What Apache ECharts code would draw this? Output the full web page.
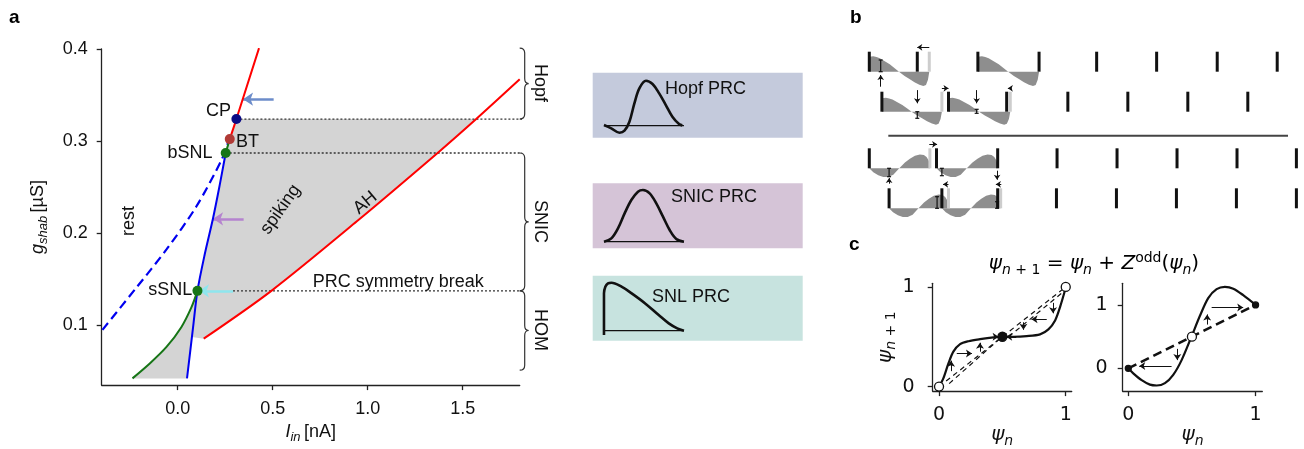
<!DOCTYPE html>
<html>
<head>
<meta charset="utf-8">
<script src="https://cdn.jsdelivr.net/npm/echarts@6/dist/echarts.min.js"></script>
<style>
  html, body { margin: 0; padding: 0; background: #fff; }
  #chart { width: 1304px; height: 449px; }
</style>
</head>
<body>
<div id="chart"></div>
<script>
// ---- panel a: two-parameter bifurcation diagram (I_in [nA] vs g_shab [uS])
const blueDashed = [[-0.396, 0.0946], [-0.217, 0.1406], [-0.059, 0.182], [0.098, 0.2287], [0.23, 0.279], [0.268, 0.300]]
const blueSolid = [[0.049, 0.0418], [0.081, 0.0975], [0.104, 0.137], [0.142, 0.1765], [0.186, 0.216], [0.221, 0.252], [0.247, 0.2807], [0.2526, 0.2869]]
const greenLower = [[-0.238, 0.0418], [-0.147, 0.058], [-0.059, 0.076], [0.019, 0.0975], [0.072, 0.119], [0.104, 0.137]]
const greenUpper = [[0.2526, 0.2869], [0.274, 0.302]]
const redSteep = [[0.274, 0.302], [0.309, 0.3238], [0.428, 0.401]]
const ahLine = [[0.137, 0.085], [0.493, 0.137], [0.943, 0.2126], [1.374, 0.288], [1.571, 0.3238], [1.80, 0.367]]
const spikingFloor = [0.075, 0.0867]

const pointNames = ['sSNL', 'bSNL', 'BT', 'CP']
const pointXY = [[0.104, 0.137], [0.2526, 0.2869], [0.274, 0.302], [0.309, 0.3238]]

const levelY = [0.3238, 0.2869, 0.137]
const levelFrom = [0.309, 0.2526, 0.291]
const levelTo = 1.825

const regimes = ['Hopf', 'SNIC', 'HOM']
const regimeTop = [0.401, 0.2869, 0.137]
const regimeBottom = [0.3238, 0.137, 0.0507]

const arrowsA = [[[0.505, 0.3454], [0.344, 0.3454]], [[0.347, 0.2153], [0.186, 0.2153]], [[0.291, 0.137], [0.112, 0.137]]]

const annoText = ['CP', 'BT', 'bSNL', 'sSNL', 'rest', 'spiking', 'AH', 'PRC symmetry break']
const annoXY = [[0.218, 0.3317], [0.37, 0.2983], [0.067, 0.2861], [-0.037, 0.137], [-0.253, 0.2125], [0.544, 0.225], [0.99, 0.232], [1.163, 0.146]]
const annoRot = [0, 0, 0, 0, 90, 55, 40, 0]

const xTicksA = [0, 0.5, 1.0, 1.5]
const yTicksA = [0.1, 0.2, 0.3, 0.4]

// ---- PRC insets (phase 0..1, normalised PRC)
const hopfPhase = [0, 0.091, 0.194, 0.256, 0.318, 0.380, 0.442, 0.525, 0.607, 0.690, 0.773, 0.855, 0.938, 0.979]
const hopfPrc = [0.015, -0.059, -0.156, -0.111, 0.089, 0.496, 0.830, 1.0, 0.926, 0.719, 0.459, 0.2, 0.037, 0.007]
const snicPhase = [0, 0.092, 0.175, 0.258, 0.342, 0.425, 0.4875, 0.571, 0.654, 0.7375, 0.821, 0.904, 1.0]
const snicPrc = [0, 0.065, 0.258, 0.548, 0.806, 0.968, 1.0, 0.935, 0.742, 0.484, 0.226, 0.052, 0]
const snlPhase = [0, 0, 0.017, 0.05, 0.093, 0.219, 0.346, 0.515, 0.684, 0.81, 0.916, 1.0]
const snlPrc = [-0.09, 0.778, 0.917, 0.986, 1.0, 0.917, 0.778, 0.569, 0.326, 0.153, 0.049, 0]
const insetNames = ['Hopf PRC', 'SNIC PRC', 'SNL PRC']

// ---- panel b: spike trains (time in periods), one list per trace
const rowBase = [0, -2, -4.83, -6.83]
const spikeTimes = [
  [0, 0.8, 1.81, 2.83, 3.79, 4.79, 5.8, 6.8],
  [0.21, 1.32, 2.29, 3.31, 4.31, 5.31, 6.31],
  [0, 1.12, 2.14, 3.13, 4.13, 5.13, 6.13, 7.12],
  [0.33, 1.21, 2.14, 3.12, 4.12, 5.12, 6.12, 7.12]
]
const ghostTimes = [[1.0], [1.21, 2.35], [1.01], [1.32, 2.19]]
const waveSpans = [
  [[0, 1.0], [1.81, 2.83]],
  [[0.21, 1.21], [1.32, 2.35]],
  [[0, 1.01], [1.12, 2.14]],
  [[0.33, 1.32], [1.21, 2.19]]
]
const waveAmp = [0.72, 0.65, 0.72, 0.72]
const waveShape = [0, 0, 1, 1]
const waveAPhase = [0, 0, 0.066, 0.121, 0.176, 0.258, 0.341, 0.423, 0.495, 0.588, 0.67, 0.753, 0.835, 0.901, 0.945, 0.978, 1]
const waveAValue = [0, 1.04, 1.07, 1.02, 0.93, 0.73, 0.51, 0.24, 0, -0.29, -0.51, -0.73, -0.91, -1.0, -0.93, -0.56, 0]
const waveBPhase = [0, 0.066, 0.148, 0.231, 0.313, 0.396, 0.495, 0.588, 0.67, 0.753, 0.835, 0.901, 0.945, 0.978, 1, 1]
const waveBValue = [0, -0.27, -0.49, -0.6, -0.6, -0.44, 0, 0.4, 0.67, 0.87, 0.96, 0.93, 0.78, 0.56, 0.3, 0]
const separator = [[0.317, -3.2], [6.98, -3.2]]
const arrowsB = [
  [[1.0, 1.22], [0.8, 1.22]], [[0.19, -0.75], [0.19, -0.17]],
  [[0.8, -0.92], [0.8, -1.58]], [[1.79, -0.92], [1.79, -1.58]],
  [[1.21, -0.83], [1.32, -0.83]], [[2.37, -0.83], [2.31, -0.83]],
  [[1.0, -3.63], [1.13, -3.63]], [[2.13, -4.95], [2.13, -5.4]], [[0.33, -5.6], [0.33, -5.32]],
  [[1.32, -5.63], [1.23, -5.63]], [[2.2, -5.63], [2.11, -5.63]]
]
const kicksB = [[0.19, 0, 0.585], [0.8, -2, -2.33], [1.79, -1.88, -2.08], [0.33, -4.83, -5.25], [1.21, -4.83, -5.2], [1.13, -6.25, -6.83], [2.13, -6.5, -6.83]]

// ---- panel c: phase return maps
const mapLeftX = [0, 0.034, 0.074, 0.113, 0.166, 0.232, 0.324, 0.429, 0.503, 0.587, 0.692, 0.797, 0.863, 0.916, 0.955, 1.0]
const mapLeftY = [0, 0.083, 0.232, 0.351, 0.426, 0.455, 0.476, 0.494, 0.5, 0.5, 0.506, 0.524, 0.574, 0.664, 0.798, 0.991]
const mapRightX = [0, 0.039, 0.105, 0.17, 0.223, 0.288, 0.353, 0.419, 0.497, 0.563, 0.628, 0.694, 0.759, 0.825, 0.903, 1.0]
const mapRightY = [0, -0.079, -0.186, -0.256, -0.27, -0.233, -0.102, 0.13, 0.502, 0.828, 1.107, 1.247, 1.284, 1.256, 1.153, 1.0]
const diagonal = [[0, 0], [1, 1]]
const cobwebLeft = [[[0.08, 0.03], [0.47, 0.47]], [[0.55, 0.5], [0.99, 0.96]]]
const arrowsCL = [
  [[0.85, 0.675], [0.73, 0.675]], [[0.9, 0.84], [0.9, 0.735]], [[0.666, 0.645], [0.666, 0.57]],
  [[0.61, 0.5], [0.53, 0.5]], [[0.39, 0.5], [0.47, 0.5]], [[0.14, 0.333], [0.26, 0.333]],
  [[0.095, 0.155], [0.095, 0.26]], [[0.323, 0.35], [0.323, 0.44]]
]
const arrowsCR = [[[0.655, 0.958], [0.903, 0.958]], [[0.34, 0.037], [0.086, 0.037]], [[0.62, 0.69], [0.62, 0.85]], [[0.385, 0.307], [0.385, 0.13]]]
const openLeft = [[0, 0], [1, 1]], fixedLeft = [[0.5, 0.5]]
const openRight = [[0.5, 0.5]], fixedRight = [[0, 0], [1, 1]]

const fontA = 'Liberation Sans, Arial, sans-serif'
const fontC = 'DejaVu Sans, Verdana, sans-serif'
const ink = '#111'

const richA = {
  i: { fontFamily: fontA, fontStyle: 'italic', fontSize: 18, lineHeight: 24, color: ink },
  s: { fontFamily: fontA, fontStyle: 'italic', fontSize: 13, lineHeight: 14, verticalAlign: 'bottom', color: ink },
  n: { fontFamily: fontA, fontSize: 18, lineHeight: 24, color: ink }
}
const richC = {
  i: { fontFamily: fontC, fontStyle: 'italic', fontSize: 20, lineHeight: 26, color: ink },
  si: { fontFamily: fontC, fontStyle: 'italic', fontSize: 14, lineHeight: 14, verticalAlign: 'bottom', color: ink },
  s: { fontFamily: fontC, fontSize: 14, lineHeight: 14, verticalAlign: 'bottom', color: ink },
  p: { fontFamily: fontC, fontSize: 14, lineHeight: 14, verticalAlign: 'top', color: ink },
  n: { fontFamily: fontC, fontSize: 20, lineHeight: 26, color: ink }
}

const zip = (xs, ys) => xs.map((x, i) => [x, ys[i]])

function axisPair(grid, o) {
  const axLine = { show: o.show !== false, onZero: false, lineStyle: { color: '#222', width: 1.3 } }
  const mk = (min, max, ticks, extra) => Object.assign({
    gridIndex: grid, type: 'value', min: min, max: max, show: o.show !== false,
    axisLine: axLine,
    axisTick: { customValues: ticks, length: 5, lineStyle: { color: '#222', width: 1.3 } },
    axisLabel: { customValues: ticks, color: ink, fontSize: o.fontSize || 18, fontFamily: o.font || fontA, formatter: o.fmt },
    splitLine: { show: false }
  }, extra)
  return [mk(o.x[0], o.x[1], o.xt, o.xExtra), mk(o.y[0], o.y[1], o.yt, o.yExtra)]
}

const aAxes = axisPair(0, {
  x: [-0.4, 1.8], y: [0.0345, 0.4], xt: xTicksA, yt: yTicksA, fmt: v => v.toFixed(1),
  xExtra: { name: '{i|I}{s|in} {n|[nA]}', nameLocation: 'middle', nameGap: 31, nameTextStyle: { rich: richA } },
  yExtra: { name: '{i|g}{s|shab} {n|[µS]}', nameLocation: 'middle', nameGap: 52, nameTextStyle: { rich: richA } }
})
aAxes[0].axisLabel.margin = 15
aAxes[1].axisLabel.margin = 14

const insetY = [[-0.267, 1.178], [-0.128, 1.13], [-0.208, 1.146]]
const insetAxes = insetY.map((yr, k) => axisPair(k + 1, { show: false, x: [-0.141, 2.484], y: yr, xt: [], yt: [] }))
const bAxes = axisPair(4, { show: false, x: [-0.155, 7.18], y: [-7.415, 1.585], xt: [], yt: [] })
const cLAxes = axisPair(5, {
  x: [-0.05, 1.047], y: [-0.045, 1.036], xt: [0, 1], yt: [0, 1], fmt: v => String(v), font: fontC, fontSize: 19,
  xExtra: { name: '{i|ψ}{si|n}', nameLocation: 'middle', nameGap: 19, nameTextStyle: { rich: richC } },
  yExtra: { name: '{i|ψ}{si|n}{s| + 1}', nameLocation: 'middle', nameGap: 16, nameTextStyle: { rich: richC } }
})
cLAxes[0].axisLabel.margin = 14
cLAxes[1].axisLabel.margin = 18
const cRAxes = axisPair(6, {
  x: [-0.044, 1.053], y: [-0.358, 1.34], xt: [0, 1], yt: [0, 1], fmt: v => String(v), font: fontC, fontSize: 19,
  xExtra: { name: '{i|ψ}{si|n}', nameLocation: 'middle', nameGap: 17, nameTextStyle: { rich: richC } }
})
cRAxes[0].axisLabel.margin = 14
cRAxes[1].axisLabel.margin = 15

const allAxes = [aAxes, ...insetAxes, bAxes, cLAxes, cRAxes]

function line(ax, data, color, width, extra) {
  return Object.assign({
    type: 'line', xAxisIndex: ax, yAxisIndex: ax, data: data, showSymbol: false, silent: true,
    lineStyle: { color: color, width: width }, animation: false
  }, extra)
}
function arrows(ax, list, color, width, size) {
  return {
    type: 'lines', coordinateSystem: 'cartesian2d', xAxisIndex: ax, yAxisIndex: ax, silent: true,
    symbol: ['none', 'arrow'], symbolSize: size, animation: false,
    lineStyle: { color: color, width: width, opacity: 1 },
    data: list.map(c => ({ coords: c }))
  }
}
function dots(ax, data, fill, stroke, size) {
  return {
    type: 'scatter', xAxisIndex: ax, yAxisIndex: ax, data: data, symbolSize: size, silent: true, clip: false,
    itemStyle: { color: fill, borderColor: stroke, borderWidth: 1.3, opacity: 1 }, z: 5
  }
}

const spikingRegion = [].concat(greenLower, blueSolid.slice(3), greenUpper.slice(1), [redSteep[1]],
  ahLine.slice(0, 5).reverse(), [spikingFloor], [blueSolid[0]])

const pointColor = { sSNL: '#167516', bSNL: '#167516', BT: '#b03a36', CP: '#0b0b85' }
const arrowColorA = ['#6c8cca', '#b583cf', '#8ee6ee']

const series = []
// panel a
series.push({
  type: 'custom', xAxisIndex: 0, yAxisIndex: 0, data: [[0, 0.1]], silent: true, z: 1,
  renderItem: (params, api) => ({
    type: 'polygon', shape: { points: spikingRegion.map(p => api.coord(p)) }, style: { fill: '#d4d4d4' }
  })
})
levelY.forEach((y, k) => series.push(line(0, [[levelFrom[k], y], [levelTo, y]], '#333', 1.3, { lineStyle: { color: '#333', width: 1.3, type: [2, 2] }, clip: false, z: 2 })))
series.push(line(0, blueDashed, '#0000f0', 2.2, { smooth: 0.3, lineStyle: { color: '#0000f0', width: 2.2, type: [9, 5] }, z: 3 }))
series.push(line(0, blueSolid, '#0000f0', 2, { smooth: 0.3, z: 3 }))
series.push(line(0, greenLower, '#167516', 2, { smooth: 0.3, z: 3 }))
series.push(line(0, greenUpper, '#167516', 2, { z: 3 }))
series.push(line(0, redSteep, '#ff0000', 2, { z: 3 }))
series.push(line(0, ahLine, '#ff0000', 2, { smooth: 0.3, z: 3 }))
arrowsA.forEach((c, k) => series.push(arrows(0, [c], arrowColorA[k], 2.6, 10)))
series.push({
  type: 'scatter', xAxisIndex: 0, yAxisIndex: 0, symbolSize: 10, silent: true, z: 6,
  data: pointXY.map((p, i) => ({ value: p, itemStyle: { color: pointColor[pointNames[i]], opacity: 1 } }))
})
series.push({
  type: 'custom', xAxisIndex: 0, yAxisIndex: 0, clip: false, silent: true, z: 3,
  data: regimes.map((r, i) => [1.8, regimeTop[i], regimeBottom[i]]),
  renderItem: (params, api) => {
    const a = api.coord([api.value(0), api.value(1)]), b = api.coord([api.value(0), api.value(2)])
    const x0 = a[0], y0 = a[1], y1 = b[1], ym = (y0 + y1) / 2, xv = x0 + 5, r = 5
    const d = 'M' + x0 + ' ' + y0 + ' Q' + xv + ' ' + y0 + ' ' + xv + ' ' + (y0 + r) +
      ' L' + xv + ' ' + (ym - r) + ' Q' + xv + ' ' + ym + ' ' + (xv + 4) + ' ' + ym +
      ' Q' + xv + ' ' + ym + ' ' + xv + ' ' + (ym + r) + ' L' + xv + ' ' + (y1 - r) +
      ' Q' + xv + ' ' + y1 + ' ' + x0 + ' ' + y1
    return { type: 'path', shape: { pathData: d }, style: { fill: 'none', stroke: '#333', lineWidth: 1.2 } }
  }
})
const textLabel = { show: true, position: [0, 0], align: 'center', verticalAlign: 'middle', color: ink, fontSize: 18, fontFamily: fontA, textBorderWidth: 0 }
series.push({
  type: 'scatter', xAxisIndex: 0, yAxisIndex: 0, symbolSize: 1, clip: false, silent: true, z: 7,
  itemStyle: { color: 'rgba(0,0,0,0)', opacity: 1 },
  data: annoXY.map((p, i) => ({ value: p, label: Object.assign({}, textLabel, { formatter: annoText[i], rotate: annoRot[i] }) }))
    .concat(regimes.map((r, i) => ({ value: [1.909, (regimeTop[i] + regimeBottom[i]) / 2], label: Object.assign({}, textLabel, { formatter: r, rotate: -90 }) })))
})

// PRC insets
const insetCurves = [zip(hopfPhase, hopfPrc), zip(snicPhase, snicPrc), zip(snlPhase, snlPrc)]
insetCurves.forEach((c, k) => {
  series.push(line(k + 1, [[0, 0], [1, 0]], '#111', 1.3))
  series.push(line(k + 1, c, '#111', 2.6, { smooth: 0.35 }))
})

// panel b
const waveItems = [], spikeItems = []
waveSpans.forEach((row, r) => row.forEach(s => waveItems.push([s[0], s[1], r])))
spikeTimes.forEach((row, r) => row.forEach(t => spikeItems.push([t, rowBase[r], 0])))
ghostTimes.forEach((row, r) => row.forEach(t => spikeItems.push([t, rowBase[r], 1])))
series.push({
  type: 'custom', xAxisIndex: 4, yAxisIndex: 4, data: waveItems, silent: true, z: 2,
  renderItem: (params, api) => {
    const t0 = api.value(0), t1 = api.value(1), r = api.value(2)
    const ph = waveShape[r] ? waveBPhase : waveAPhase, val = waveShape[r] ? waveBValue : waveAValue
    const pts = ph.map((p, i) => api.coord([t0 + p * (t1 - t0), rowBase[r] + waveAmp[r] * val[i]]))
    return { type: 'polygon', shape: { points: pts }, style: { fill: '#8e8e8e' } }
  }
})
series.push({
  type: 'custom', xAxisIndex: 4, yAxisIndex: 4, data: spikeItems, silent: true, z: 3,
  renderItem: (params, api) => {
    const a = api.coord([api.value(0), api.value(1)]), b = api.coord([api.value(0), api.value(1) + 1])
    const ghost = api.value(2) === 1
    return {
      type: 'line', z2: ghost ? 0 : 1, shape: { x1: a[0], y1: a[1], x2: b[0], y2: b[1] },
      style: { stroke: ghost ? '#cdcdcd' : '#111', lineWidth: 3 }
    }
  }
})
series.push({
  type: 'custom', xAxisIndex: 4, yAxisIndex: 4, data: kicksB, silent: true, z: 4,
  renderItem: (params, api) => {
    const a = api.coord([api.value(0), api.value(1)]), b = api.coord([api.value(0), api.value(2)])
    const st = { stroke: '#111', lineWidth: 1.2 }
    return {
      type: 'group', children: [
        { type: 'line', shape: { x1: a[0], y1: a[1], x2: b[0], y2: b[1] }, style: st },
        { type: 'line', shape: { x1: a[0] - 2, y1: a[1], x2: a[0] + 2, y2: a[1] }, style: st },
        { type: 'line', shape: { x1: b[0] - 2, y1: b[1], x2: b[0] + 2, y2: b[1] }, style: st }
      ]
    }
  }
})
series.push(line(4, separator, '#444', 2))
series.push(arrows(4, arrowsB, '#111', 1, 5))

// panel c
series.push(line(5, diagonal, '#111', 1.2, { lineStyle: { color: '#111', width: 1.2, type: [5, 4] } }))
cobwebLeft.forEach(c => series.push(line(5, c, '#111', 1.2, { lineStyle: { color: '#111', width: 1.2, type: [5, 4] } })))
series.push(line(5, zip(mapLeftX, mapLeftY), '#111', 2.2, { smooth: 0.3 }))
series.push(arrows(5, arrowsCL, '#111', 1, 6))
series.push(dots(5, openLeft, '#fff', '#111', 9))
series.push(dots(5, fixedLeft, '#111', '#111', 9))
series.push(line(6, diagonal, '#111', 2.6, { lineStyle: { color: '#111', width: 2.6, type: [9, 5] } }))
series.push(line(6, zip(mapRightX, mapRightY), '#111', 2.2, { smooth: 0.3 }))
series.push(arrows(6, arrowsCR, '#111', 1, 6))
series.push(dots(6, openRight, '#fff', '#111', 9))
series.push(dots(6, fixedRight, '#111', '#111', 6))

const letter = (t, x, y) => ({ type: 'text', left: x, top: y, style: { text: t, fontSize: 19, fontWeight: 'bold', fontFamily: fontA, fill: '#000' } })
const insetBox = [[592.7, 72.7, '#c4cadc'], [592.7, 183.3, '#d5c4d7'], [592.7, 275.7, '#c7e3df']]
const insetLabelAt = [[665, 80], [671, 188], [652, 288]]

const option = {
  backgroundColor: '#fff',
  animation: false,
  grid: [
    { left: 101.7, top: 49, width: 418, height: 339.5 },
    ...insetBox.map(b => ({ left: b[0], top: b[1], width: 210, height: 65, show: true, backgroundColor: b[2], borderWidth: 0 })),
    { left: 860, top: 40, width: 440, height: 180 },
    { left: 932.7, top: 283.3, width: 139, height: 121 },
    { left: 1122.7, top: 283.3, width: 139.6, height: 121.7 }
  ],
  xAxis: allAxes.map(p => p[0]),
  yAxis: allAxes.map(p => p[1]),
  series: series,
  graphic: [
    letter('a', 9, 8), letter('b', 850, 8), letter('c', 849, 235),
    ...insetNames.map((t, k) => ({ type: 'text', left: insetLabelAt[k][0], top: insetLabelAt[k][1], style: { text: t, fontSize: 18, fontFamily: fontA, fill: ink } })),
    {
      type: 'text', x: 1094, y: 264, z: 10,
      style: {
        text: '{i|ψ}{si|n}{s| + 1}{n| = }{i|ψ}{si|n}{n| + }{i|Z}{p|odd}{n|(}{i|ψ}{si|n}{n|)}',
        rich: richC, align: 'center', verticalAlign: 'middle'
      }
    }
  ]
}

const chart = echarts.init(document.getElementById('chart'))
chart.setOption(option)
</script>
</body>
</html>
